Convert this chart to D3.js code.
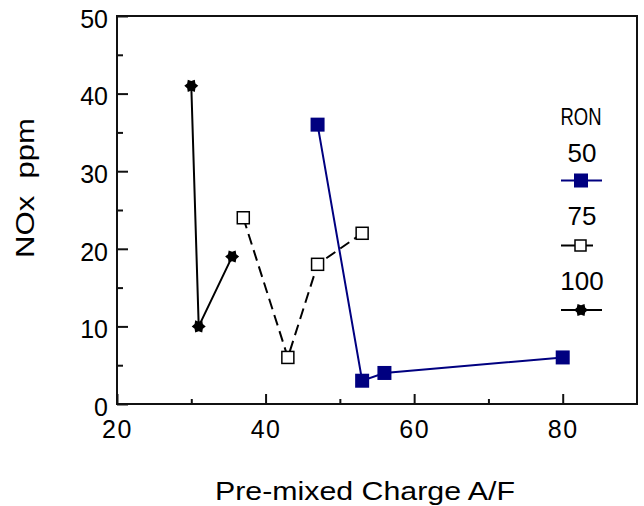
<!DOCTYPE html>
<html>
<head>
<meta charset="utf-8">
<script src="https://cdn.jsdelivr.net/npm/d3@7"></script>
<style>
  body { margin: 0; background: #fff; }
  text { font-family: "Liberation Sans", Arial, sans-serif; fill: #000; }
</style>
</head>
<body>
<div id="chart"></div>
<script>
// values
var ronLabels = ["50", "75", "100"];
var afRon50 = [47, 53, 56, 80];
var noxRon50 = [36, 3, 4, 6];
var afRon75 = [37, 43, 47, 53];
var noxRon75 = [24, 6, 18, 22];
var afRon100 = [30, 31, 35.5];
var noxRon100 = [41, 10, 19];
var xTicks = [20, 40, 60, 80];
var xMinor = [30, 50, 70];
var yTicks = [0, 10, 20, 30, 40, 50];
var yMinor = [5, 15, 25, 35, 45];

var w = 644, h = 506,
    plotL = 117, plotR = 637, plotT = 16, plotB = 404,
    navy = "#000080";

var x = d3.scaleLinear().domain([20, 90]).range([plotL, plotR]);
var y = d3.scaleLinear().domain([0, 50]).range([plotB, plotT]);

var svg = d3.select("#chart").append("svg")
    .attr("width", w)
    .attr("height", h);

// six pointed star marker
function starPath(r) {
    var pts = [];
    for (var i = 0; i < 12; i++) {
        var a = i * Math.PI / 6;
        var rr = (i % 2 === 0) ? r : r * 0.68;
        pts.push([rr * Math.cos(a), rr * Math.sin(a)]);
    }
    return d3.line()(pts) + "Z";
}

// frame
svg.append("rect")
    .attr("x", plotL).attr("y", plotT)
    .attr("width", plotR - plotL).attr("height", plotB - plotT)
    .attr("fill", "none").attr("stroke", "#111").attr("stroke-width", 2);

// axes, ticks point inward
var gx = svg.append("g").attr("transform", "translate(0," + plotB + ")")
    .call(d3.axisBottom(x).tickValues(xTicks).tickSize(-10).tickPadding(16));
var gxm = svg.append("g").attr("transform", "translate(0," + plotB + ")")
    .call(d3.axisBottom(x).tickValues(xMinor).tickSize(-5).tickFormat(""));

var gy = svg.append("g").attr("transform", "translate(" + plotL + ",0)")
    .call(d3.axisLeft(y).tickValues(yTicks).tickSize(-11).tickPadding(9));
var gym = svg.append("g").attr("transform", "translate(" + plotL + ",0)")
    .call(d3.axisLeft(y).tickValues(yMinor).tickSize(-6).tickFormat(""));

[gx, gxm, gy, gym].forEach(function (g) {
    g.select(".domain").remove();
    g.selectAll("line").attr("stroke", "#111").attr("stroke-width", 2);
    g.selectAll("text")
        .attr("font-size", 25)
        .attr("font-family", "Liberation Sans, Arial, sans-serif")
        .attr("fill", "#000");
});
gx.selectAll("text").attr("letter-spacing", 1.5);
gy.selectAll("text").attr("dy", "0.45em");

// axis titles
svg.append("text")
    .attr("x", 365).attr("y", 500)
    .attr("text-anchor", "middle")
    .attr("font-size", 26)
    .attr("textLength", 300)
    .attr("lengthAdjust", "spacingAndGlyphs")
    .text("Pre-mixed Charge A/F");

svg.append("text")
    .attr("transform", "translate(34,188) rotate(-90)")
    .attr("text-anchor", "middle")
    .attr("font-size", 25)
    .attr("textLength", 140)
    .attr("lengthAdjust", "spacingAndGlyphs")
    .style("white-space", "pre")
    .text("NOx  ppm");

var line = d3.line()
    .x(function (d) { return x(d[0]); })
    .y(function (d) { return y(d[1]); });

var s50 = d3.zip(afRon50, noxRon50),
    s75 = d3.zip(afRon75, noxRon75),
    s100 = d3.zip(afRon100, noxRon100);

// lines
svg.append("path").datum(s100).attr("d", line)
    .attr("fill", "none").attr("stroke", "#000").attr("stroke-width", 2);
svg.append("path").datum(s75).attr("d", line)
    .attr("fill", "none").attr("stroke", "#000").attr("stroke-width", 2)
    .attr("stroke-dasharray", "11,6");
svg.append("path").datum(s50).attr("d", line)
    .attr("fill", "none").attr("stroke", navy).attr("stroke-width", 2);

// markers
svg.selectAll(".m100").data(s100).enter().append("path")
    .attr("class", "m100")
    .attr("transform", function (d) { return "translate(" + x(d[0]) + "," + y(d[1]) + ")"; })
    .attr("d", starPath(7))
    .attr("fill", "#000");

svg.selectAll(".m75").data(s75).enter().append("rect")
    .attr("class", "m75")
    .attr("x", function (d) { return x(d[0]) - 6; })
    .attr("y", function (d) { return y(d[1]) - 6; })
    .attr("width", 12).attr("height", 12)
    .attr("fill", "#fff").attr("stroke", "#000").attr("stroke-width", 1.5);

svg.selectAll(".m50").data(s50).enter().append("rect")
    .attr("class", "m50")
    .attr("x", function (d) { return x(d[0]) - 7; })
    .attr("y", function (d) { return y(d[1]) - 7; })
    .attr("width", 14).attr("height", 14)
    .attr("fill", navy);

// legend
var lg = svg.append("g");
lg.append("text")
    .attr("x", 581).attr("y", 125)
    .attr("text-anchor", "middle")
    .attr("font-size", 23)
    .attr("textLength", 41)
    .attr("lengthAdjust", "spacingAndGlyphs")
    .text("RON");

var legendRows = [
    { label: ronLabels[0], ty: 162 },
    { label: ronLabels[1], ty: 225 },
    { label: ronLabels[2], ty: 290 }
];
legendRows.forEach(function (r) {
    lg.append("text")
        .attr("x", 582).attr("y", r.ty)
        .attr("text-anchor", "middle")
        .attr("font-size", 26)
        .text(r.label);
});

lg.append("line")
    .attr("x1", 561).attr("x2", 602).attr("y1", 180.5).attr("y2", 180.5)
    .attr("stroke", navy).attr("stroke-width", 2);
lg.append("rect")
    .attr("x", 574).attr("y", 173.5).attr("width", 14).attr("height", 14)
    .attr("fill", navy);

lg.append("line")
    .attr("x1", 561).attr("x2", 593).attr("y1", 245.5).attr("y2", 245.5)
    .attr("stroke", "#000").attr("stroke-width", 2);
lg.append("rect")
    .attr("x", 575).attr("y", 240).attr("width", 11).attr("height", 11)
    .attr("fill", "#fff").attr("stroke", "#000").attr("stroke-width", 1.5);

lg.append("line")
    .attr("x1", 561).attr("x2", 602).attr("y1", 310).attr("y2", 310)
    .attr("stroke", "#000").attr("stroke-width", 2);
lg.append("path")
    .attr("transform", "translate(581,310)")
    .attr("d", starPath(7))
    .attr("fill", "#000");
</script>
</body>
</html>
